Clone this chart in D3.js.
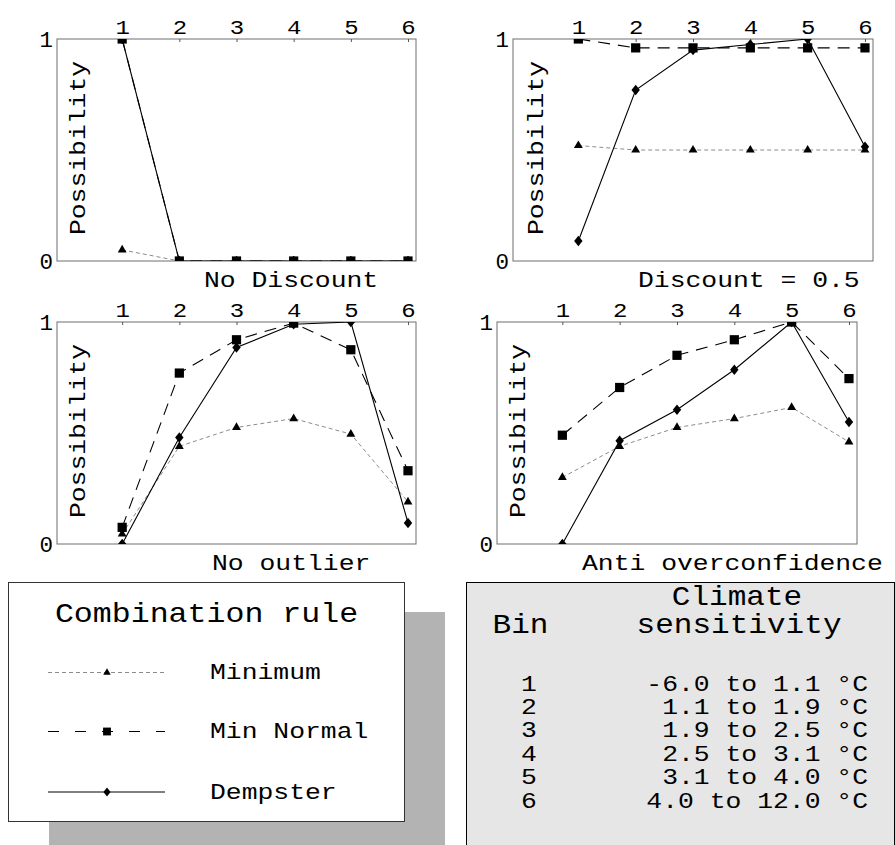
<!DOCTYPE html>
<html>
<head>
<meta charset="utf-8">
<script src="https://cdn.jsdelivr.net/npm/d3@7"></script>
<style>
  html, body { margin: 0; padding: 0; background: #fff; }
  svg { display: block; }
  text { font-family: "Liberation Mono", "Courier New", monospace; fill: #000; }
</style>
</head>
<body>
<svg id="chart" width="895" height="845"></svg>
<script>
// ---------------- DATA ----------------
const bins = [1, 2, 3, 4, 5, 6];
const yTicks = [0, 1];
const panelTitles = ["No Discount", "Discount = 0.5", "No outlier", "Anti overconfidence"];
const yAxisLabel = "Possibility";
const seriesNames = ["Minimum", "Min Normal", "Dempster"];

// Panel 1: No Discount
const noDiscountMinimum   = [0.05, 0, 0, 0, 0, 0];
const noDiscountMinNormal = [1.0, 0, 0, 0, 0, 0];
const noDiscountDempster  = [1.0, 0, 0, 0, 0, 0];
// Panel 2: Discount = 0.5
const discountMinimum   = [0.52, 0.50, 0.50, 0.50, 0.50, 0.50];
const discountMinNormal = [1.0, 0.96, 0.96, 0.96, 0.96, 0.96];
const discountDempster  = [0.09, 0.77, 0.95, 0.975, 1.0, 0.515];
// Panel 3: No outlier
const noOutlierMinimum   = [0.045, 0.44, 0.525, 0.565, 0.495, 0.19];
const noOutlierMinNormal = [0.075, 0.77, 0.92, 0.995, 0.875, 0.33];
const noOutlierDempster  = [0.0, 0.48, 0.885, 0.99, 1.0, 0.095];
// Panel 4: Anti overconfidence
const antiMinimum   = [0.30, 0.44, 0.525, 0.565, 0.615, 0.46];
const antiMinNormal = [0.49, 0.705, 0.85, 0.92, 1.0, 0.745];
const antiDempster  = [0.0, 0.465, 0.605, 0.785, 1.0, 0.55];

const legendTitle = "Combination rule";
const tableHeaderBin = "Bin";
const tableHeaderCol = ["Climate", "sensitivity"];
const tableBins = ["1", "2", "3", "4", "5", "6"];
const tableRanges = ["-6.0 to 1.1 °C", "1.1 to 1.9 °C", "1.9 to 2.5 °C",
                     "2.5 to 3.1 °C", "3.1 to 4.0 °C", "4.0 to 12.0 °C"];

// ---------------- LAYOUT ----------------
const svg = d3.select("#chart");
svg.append("rect").attr("width", 895).attr("height", 845).attr("fill", "#fff");

const panelSeries = [
  [noDiscountMinimum, noDiscountMinNormal, noDiscountDempster],
  [discountMinimum, discountMinNormal, discountDempster],
  [noOutlierMinimum, noOutlierMinNormal, noOutlierDempster],
  [antiMinimum, antiMinNormal, antiDempster]
];
const panelBoxes = [
  { left: 57,  right: 416, top: 39,  bottom: 261, titleX: 204, labelX: 85 },
  { left: 513, right: 873, top: 39,  bottom: 261, titleX: 638, labelX: 543 },
  { left: 57,  right: 416, top: 322, bottom: 544, titleX: 212, labelX: 85 },
  { left: 497, right: 857, top: 322, bottom: 544, titleX: 582, labelX: 525 }
];

const styles = [
  { stroke: "#8c8c8c", dash: "4,3", width: 1, sym: "tri" },
  { stroke: "#000", dash: "12,8", width: 1.1, sym: "sq" },
  { stroke: "#000", dash: null, width: 1.1, sym: "dia" }
];

const diamond = {
  draw(ctx, size) {
    const h = Math.sqrt(size) * 0.62, w = h * 0.8;
    ctx.moveTo(0, -h); ctx.lineTo(w, 0); ctx.lineTo(0, h); ctx.lineTo(-w, 0); ctx.closePath();
  }
};
function symbolPath(kind, scale) {
  const s = scale || 1;
  if (kind === "tri") return d3.symbol(d3.symbolTriangle, 34 * s * s)();
  if (kind === "sq") return d3.symbol(d3.symbolSquare, 85 * s * s)();
  return d3.symbol(diamond, 72 * s * s)();
}

function stext(parent, x, y, str, size, sx, anchor, rot) {
  const g = parent.append("g")
    .attr("transform", `translate(${x},${y})${rot ? ` rotate(${rot})` : ""} scale(${sx},1)`);
  return g.append("text").attr("font-size", size).attr("text-anchor", anchor || "start").text(str);
}

panelBoxes.forEach((b, pi) => {
  const g = svg.append("g");
  const x = d3.scaleLinear().domain([-0.14, 6.14]).range([b.left, b.right]);
  const y = d3.scaleLinear().domain([0, 1]).range([b.bottom, b.top]);

  const clipId = "clip" + pi;
  svg.append("clipPath").attr("id", clipId).append("rect")
    .attr("x", b.left).attr("y", b.top).attr("width", b.right - b.left).attr("height", b.bottom - b.top);

  // frame
  g.append("rect").attr("x", b.left).attr("y", b.top)
    .attr("width", b.right - b.left).attr("height", b.bottom - b.top)
    .attr("fill", "none").attr("stroke", "#6e6e6e").attr("stroke-width", 1);

  // top axis with bin labels
  const ax = g.append("g").attr("transform", `translate(0,${b.top})`)
    .call(d3.axisTop(x).tickValues(bins).tickFormat(d3.format("d"))
      .tickSizeInner(-3).tickSizeOuter(0).tickPadding(5));
  ax.select(".domain").remove();
  ax.selectAll(".tick line").attr("stroke", "#555");
  ax.selectAll(".tick text").attr("font-size", 20).attr("fill", "#000")
    .attr("font-family", "Liberation Mono, monospace").attr("transform", "scale(1.2,1)");

  // left axis 0 / 1
  const ay = g.append("g").attr("transform", `translate(${b.left},0)`)
    .call(d3.axisLeft(y).tickValues(yTicks).tickFormat(d3.format("d")).tickSize(0).tickPadding(4));
  ay.select(".domain").remove();
  ay.selectAll(".tick text").attr("font-size", 22.5).attr("fill", "#000")
    .attr("font-family", "Liberation Mono, monospace");

  // y label
  stext(g, b.labelX, (b.top + b.bottom) / 2 - 2, yAxisLabel, 22, 1.2, "middle", -90);
  // panel title
  stext(g, b.titleX, b.bottom + 26, panelTitles[pi], 22, 1.2, "start");

  const marks = g.append("g").attr("clip-path", `url(#${clipId})`);
  const line = d3.line().x((d, i) => x(bins[i])).y(d => y(d));
  panelSeries[pi].forEach((vals, si) => {
    const st = styles[si];
    marks.append("path").attr("d", line(vals)).attr("fill", "none")
      .attr("stroke", st.stroke).attr("stroke-width", st.width)
      .attr("stroke-dasharray", st.dash);
  });
  panelSeries[pi].forEach((vals, si) => {
    const st = styles[si];
    marks.selectAll(null).data(vals).enter().append("path")
      .attr("transform", (d, i) => `translate(${x(bins[i])},${y(d)})`)
      .attr("d", symbolPath(st.sym)).attr("fill", "#000");
  });
});

// ---------------- LEGEND ----------------
const lg = svg.append("g");
lg.append("rect").attr("x", 49).attr("y", 612).attr("width", 396).attr("height", 240).attr("fill", "#b3b3b3");
lg.append("rect").attr("x", 8.5).attr("y", 582.5).attr("width", 396).attr("height", 239)
  .attr("fill", "#fff").attr("stroke", "#333").attr("stroke-width", 1);
stext(lg, 206.5, 622, legendTitle, 27, 1.17, "middle");
const legendY = [672.5, 731.5, 792];
const legendDash = ["4,3", "11,16", null];
seriesNames.forEach((name, i) => {
  const st = styles[i];
  lg.append("line").attr("x1", 48).attr("x2", 165).attr("y1", legendY[i]).attr("y2", legendY[i])
    .attr("stroke", st.stroke).attr("stroke-width", st.width).attr("stroke-dasharray", legendDash[i]);
  lg.append("path").attr("transform", `translate(107,${legendY[i]})`)
    .attr("d", symbolPath(st.sym, 0.85)).attr("fill", "#000");
  stext(lg, 210, legendY[i] + 6.5, name, 22, 1.2, "start");
});

// ---------------- TABLE ----------------
const tb = svg.append("g");
tb.append("rect").attr("x", 466.5).attr("y", 582.5).attr("width", 428).attr("height", 270)
  .attr("fill", "#e6e6e6").attr("stroke", "#000").attr("stroke-width", 1);
stext(tb, 737, 605, tableHeaderCol[0], 27.5, 1.13, "middle");
stext(tb, 739, 633, tableHeaderCol[1], 27.5, 1.13, "middle");
stext(tb, 520.5, 633, tableHeaderBin, 27.5, 1.13, "middle");
tableBins.forEach((bn, i) => {
  const yy = 690.5 + i * 23.4;
  stext(tb, 529, yy, bn, 22, 1.2, "middle");
  stext(tb, 868, yy, tableRanges[i], 22, 1.2, "end");
});
</script>
</body>
</html>
